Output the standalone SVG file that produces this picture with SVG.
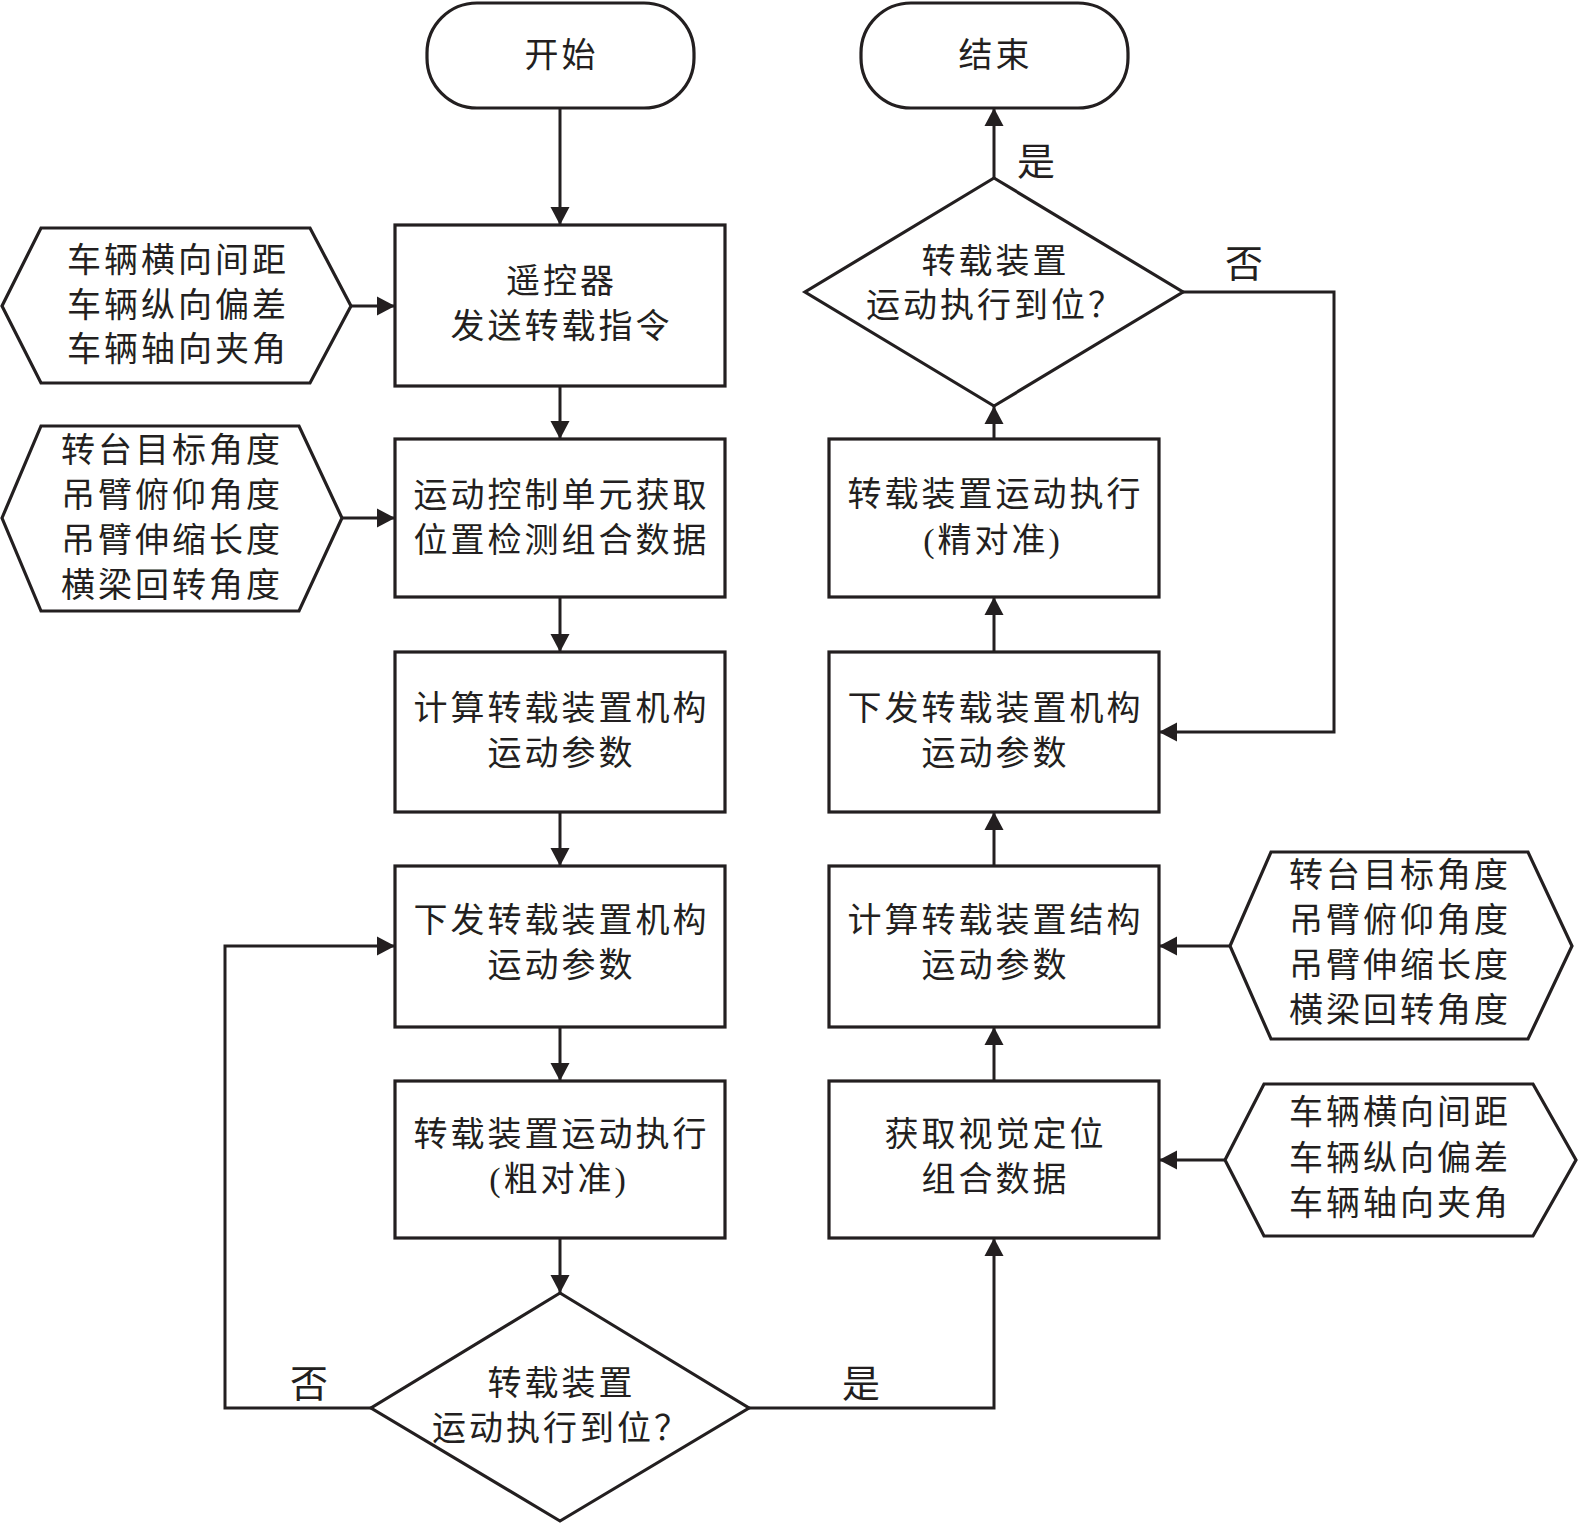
<svg xmlns="http://www.w3.org/2000/svg" width="1578" height="1523" viewBox="0 0 1578 1523">
<defs>
<style>
.shape{fill:#fff;stroke:#231f20;stroke-width:3.2;stroke-linejoin:miter}
.line{fill:none;stroke:#231f20;stroke-width:3}
.t{font-family:"Liberation Serif","Noto Sans CJK SC",serif;font-size:34px;fill:#231f20;text-anchor:middle;dominant-baseline:central;letter-spacing:3px}
.lbl{font-family:"Noto Sans CJK SC",sans-serif;font-size:38px;fill:#231f20;text-anchor:middle;dominant-baseline:central}
</style>
<marker id="ah" markerUnits="userSpaceOnUse" markerWidth="18" markerHeight="20" refX="18" refY="10" orient="auto">
<path d="M0,0.5 L18,10 L0,19.5 Z" fill="#231f20"/>
</marker>
</defs>
<rect width="1578" height="1523" fill="#fff"/>

<g id="connectors">
<line class="line" x1="560" y1="108" x2="560" y2="225" marker-end="url(#ah)"/>
<line class="line" x1="560" y1="386" x2="560" y2="439" marker-end="url(#ah)"/>
<line class="line" x1="560" y1="597" x2="560" y2="652" marker-end="url(#ah)"/>
<line class="line" x1="560" y1="812" x2="560" y2="866" marker-end="url(#ah)"/>
<line class="line" x1="560" y1="1027" x2="560" y2="1081" marker-end="url(#ah)"/>
<line class="line" x1="560" y1="1238" x2="560" y2="1293" marker-end="url(#ah)"/>
<line class="line" x1="351" y1="306" x2="395" y2="306" marker-end="url(#ah)"/>
<line class="line" x1="342" y1="518" x2="395" y2="518" marker-end="url(#ah)"/>
<polyline class="line" points="371,1408 225,1408 225,946 395,946" marker-end="url(#ah)"/>
<polyline class="line" points="749,1408 994,1408 994,1238" marker-end="url(#ah)"/>
<line class="line" x1="994" y1="1081" x2="994" y2="1027" marker-end="url(#ah)"/>
<line class="line" x1="994" y1="866" x2="994" y2="812" marker-end="url(#ah)"/>
<line class="line" x1="994" y1="652" x2="994" y2="597" marker-end="url(#ah)"/>
<line class="line" x1="994" y1="439" x2="994" y2="406" marker-end="url(#ah)"/>
<line class="line" x1="994" y1="178" x2="994" y2="108" marker-end="url(#ah)"/>
<polyline class="line" points="1183,292 1334,292 1334,732 1159,732" marker-end="url(#ah)"/>
<line class="line" x1="1230" y1="946" x2="1159" y2="946" marker-end="url(#ah)"/>
<line class="line" x1="1225" y1="1160" x2="1159" y2="1160" marker-end="url(#ah)"/>
<text class="lbl" x="1036" y="158">是</text>
<text class="lbl" x="1244" y="260">否</text>
<text class="lbl" x="309" y="1380">否</text>
<text class="lbl" x="861" y="1380">是</text>
</g>

<g id="start">
<rect class="shape" x="427" y="3" width="267" height="105" rx="50" ry="50"/>
<text class="t" x="561.5" y="55">开始</text>
</g>
<g id="end">
<rect class="shape" x="861" y="3" width="267" height="105" rx="50" ry="50"/>
<text class="t" x="995.5" y="55">结束</text>
</g>

<g id="box-remote">
<rect class="shape" x="395" y="225" width="330" height="161"/>
<text class="t" x="561.5" y="281">遥控器</text>
<text class="t" x="561.5" y="326">发送转载指令</text>
</g>
<g id="box-getpos">
<rect class="shape" x="395" y="439" width="330" height="158"/>
<text class="t" x="561.5" y="495">运动控制单元获取</text>
<text class="t" x="561.5" y="540">位置检测组合数据</text>
</g>
<g id="box-calc-left">
<rect class="shape" x="395" y="652" width="330" height="160"/>
<text class="t" x="561.5" y="708">计算转载装置机构</text>
<text class="t" x="561.5" y="753">运动参数</text>
</g>
<g id="box-send-left">
<rect class="shape" x="395" y="866" width="330" height="161"/>
<text class="t" x="561.5" y="920">下发转载装置机构</text>
<text class="t" x="561.5" y="965">运动参数</text>
</g>
<g id="box-exec-coarse">
<rect class="shape" x="395" y="1081" width="330" height="157"/>
<text class="t" x="561.5" y="1134">转载装置运动执行</text>
<text class="t" x="559" y="1179">(粗对准)</text>
</g>
<g id="decision-left">
<polygon class="shape" points="560,1293 749,1408 560,1521 371,1408"/>
<text class="t" x="561.5" y="1383">转载装置</text>
<text class="t" x="561.5" y="1428">运动执行到位？</text>
</g>

<g id="hex-vehicle-left">
<polygon class="shape" points="2,306 41,228 310,228 351,306 310,383 41,383"/>
<text class="t" x="178" y="260">车辆横向间距</text>
<text class="t" x="178" y="305">车辆纵向偏差</text>
<text class="t" x="178" y="349">车辆轴向夹角</text>
</g>
<g id="hex-angles-left">
<polygon class="shape" points="2,518 41,426 299,426 342,518 299,611 41,611"/>
<text class="t" x="172" y="450">转台目标角度</text>
<text class="t" x="172" y="495">吊臂俯仰角度</text>
<text class="t" x="172" y="540">吊臂伸缩长度</text>
<text class="t" x="172" y="585">横梁回转角度</text>
</g>

<g id="box-vision">
<rect class="shape" x="829" y="1081" width="330" height="157"/>
<text class="t" x="995.5" y="1134">获取视觉定位</text>
<text class="t" x="995.5" y="1179">组合数据</text>
</g>
<g id="box-calc-right">
<rect class="shape" x="829" y="866" width="330" height="161"/>
<text class="t" x="995.5" y="920">计算转载装置结构</text>
<text class="t" x="995.5" y="965">运动参数</text>
</g>
<g id="box-send-right">
<rect class="shape" x="829" y="652" width="330" height="160"/>
<text class="t" x="995.5" y="708">下发转载装置机构</text>
<text class="t" x="995.5" y="753">运动参数</text>
</g>
<g id="box-exec-fine">
<rect class="shape" x="829" y="439" width="330" height="158"/>
<text class="t" x="995.5" y="494">转载装置运动执行</text>
<text class="t" x="993" y="540">(精对准)</text>
</g>
<g id="decision-right">
<polygon class="shape" points="994,178 1183,292 994,406 805,292"/>
<text class="t" x="995.5" y="261">转载装置</text>
<text class="t" x="995.5" y="305">运动执行到位？</text>
</g>

<g id="hex-angles-right">
<polygon class="shape" points="1230,946 1271,852 1528,852 1572,946 1528,1039 1271,1039"/>
<text class="t" x="1400" y="875">转台目标角度</text>
<text class="t" x="1400" y="920">吊臂俯仰角度</text>
<text class="t" x="1400" y="965">吊臂伸缩长度</text>
<text class="t" x="1400" y="1010">横梁回转角度</text>
</g>
<g id="hex-vehicle-right">
<polygon class="shape" points="1225,1160 1264,1084 1533,1084 1576,1160 1533,1236 1264,1236"/>
<text class="t" x="1400" y="1112">车辆横向间距</text>
<text class="t" x="1400" y="1158">车辆纵向偏差</text>
<text class="t" x="1400" y="1203">车辆轴向夹角</text>
</g>
</svg>
